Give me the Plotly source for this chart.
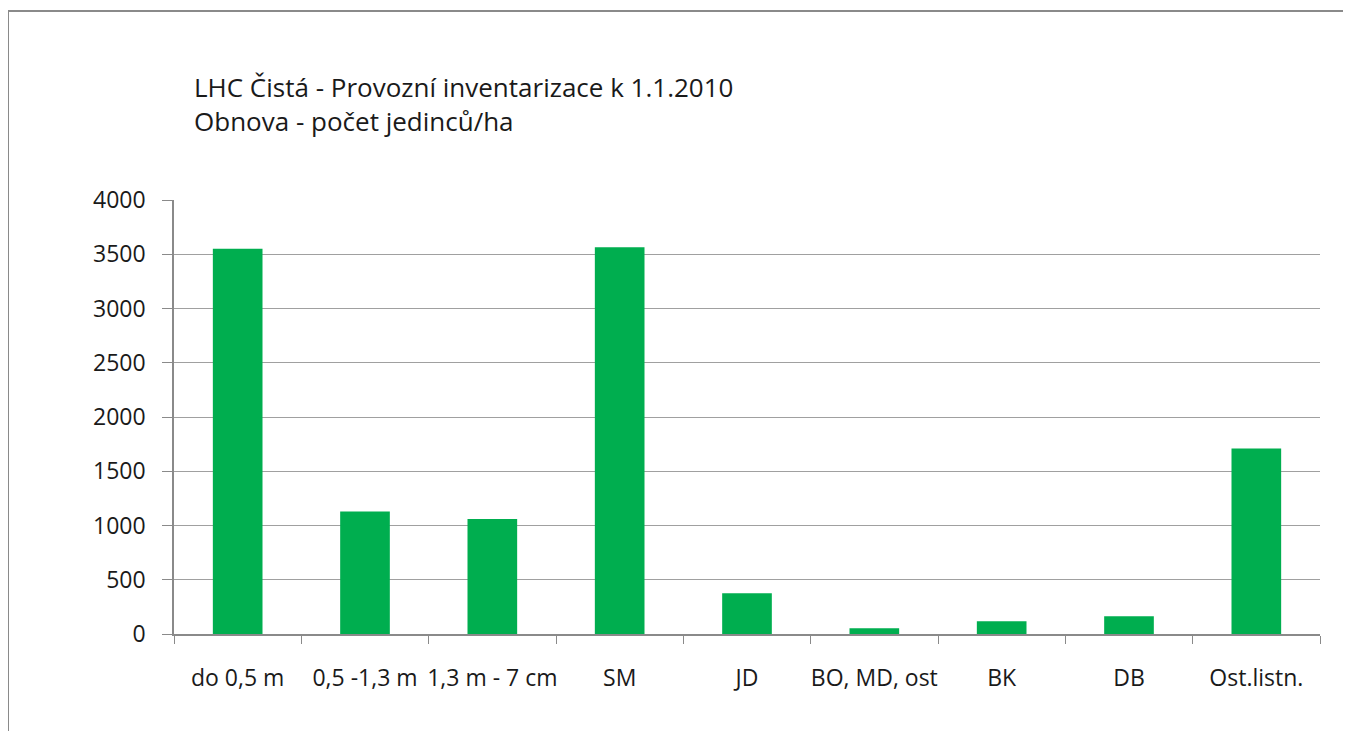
import plotly.graph_objects as go

categories = ["do 0,5 m", "0,5 -1,3 m", "1,3 m - 7 cm", "SM", "JD", "BO, MD, ost", "BK", "DB", "Ost.listn."]
values = [3550, 1130, 1060, 3565, 375, 52, 117, 163, 1710]
y_ticks = [0, 500, 1000, 1500, 2000, 2500, 3000, 3500, 4000]
title_lines = ["LHC Čistá - Provozní inventarizace k 1.1.2010", "Obnova - počet jedinců/ha"]

W, H = 1351, 731
OFF = 8  # page body margin
# target plot area in screen pixels
PL, PR, PT, PB = 174, 1320, 200, 634
L = PL - OFF
T = PT - OFF
pw, ph = PR - PL, PB - PT
R = W - L - pw
B = H - T - ph

FONT = "Open Sans"
TXT = "#1a1a1a"
GRID = "#a0a0a0"

fig = go.Figure(go.Bar(
    x=categories, y=values,
    marker=dict(color="#00ae4f", line=dict(width=0)),
    width=0.39,
))

def px_x(x):
    return (x - PL) / pw

def px_y(y):
    return (PB - y) / ph

fig.update_layout(
    width=W, height=H,
    margin=dict(l=L, r=R, t=T, b=B, autoexpand=False),
    paper_bgcolor="white", plot_bgcolor="white",
    showlegend=False,
    font=dict(family=FONT, size=23, color=TXT),
    shapes=[dict(type="rect", xref="paper", yref="paper",
                 x0=px_x(8), x1=px_x(1345), y0=px_y(780), y1=px_y(11),
                 line=dict(color="#8a8a8a", width=2), fillcolor="rgba(0,0,0,0)",
                 layer="below")],
    annotations=[
        dict(text="<br>".join(title_lines), xref="paper", yref="paper", x=px_x(192), y=px_y(104),
             xanchor="left", yanchor="middle", align="left", showarrow=False,
             font=dict(size=26, family=FONT, color=TXT)),
    ],
)

fig.update_xaxes(
    type="category", tickson="boundaries", ticks="outside", ticklen=8,
    tickcolor="#8a8a8a", tickwidth=1, tickangle=0,
    showline=True, linecolor="#8a8a8a", linewidth=1.5,
    showgrid=False, ticklabelstandoff=23,
    tickfont=dict(size=23, family=FONT, color=TXT),
)
fig.update_yaxes(
    range=[0, 4000], tickvals=y_ticks, ticks="outside", ticklen=10,
    tickcolor="#8a8a8a", tickwidth=1,
    showline=True, linecolor="#8a8a8a", linewidth=1.5,
    showgrid=True, gridcolor=GRID, gridwidth=1.2,
    zeroline=False, ticklabelstandoff=12,
    tickfont=dict(size=23, family=FONT, color=TXT),
)

fig.write_html("out.html")
